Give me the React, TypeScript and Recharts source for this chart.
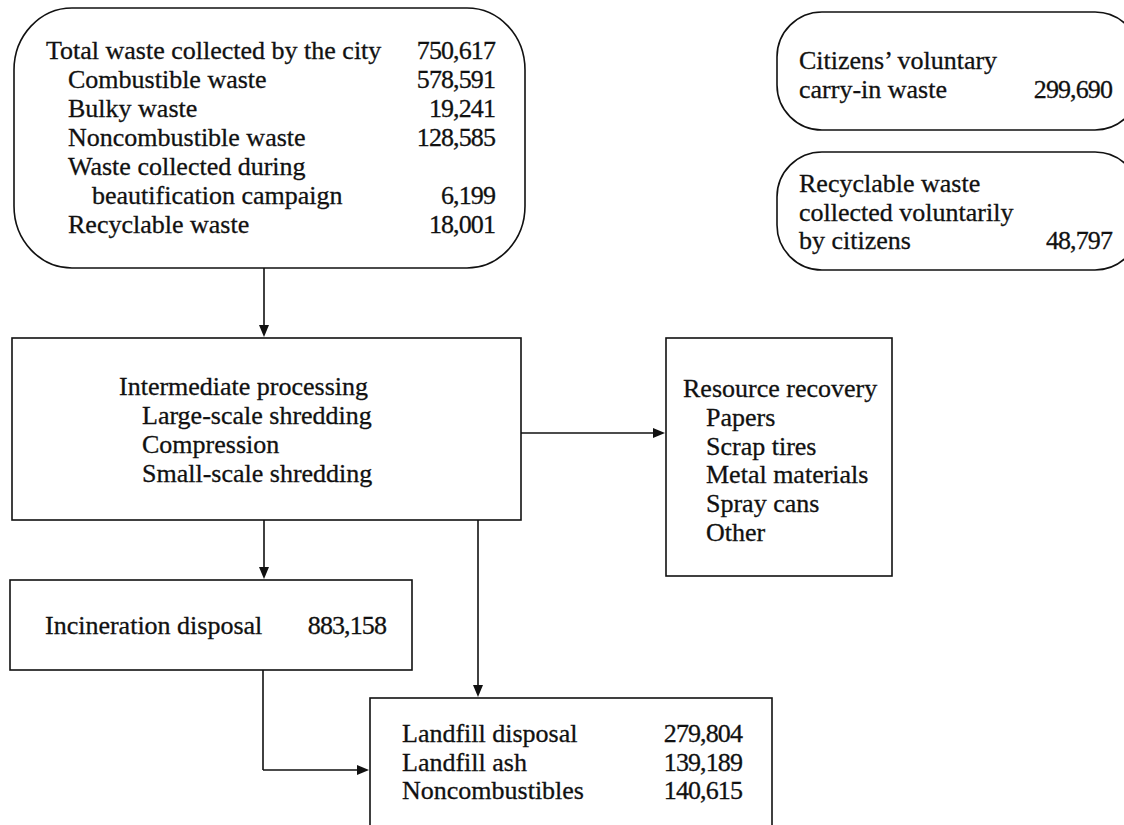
import React from "react";
import { ComposedChart, XAxis, YAxis, ReferenceArea, ReferenceLine } from "recharts";

// ---------- data (tonnes) ----------
const cityWasteItems = [
  "Total waste collected by the city",
  "Combustible waste",
  "Bulky waste",
  "Noncombustible waste",
  "Waste collected during",
  "beautification campaign",
  "Recyclable waste",
];
const cityWasteTonnes: (number | null)[] = [750617, 578591, 19241, 128585, null, 6199, 18001];

const carryInItems = ["Citizens\u2019 voluntary", "carry-in waste"];
const carryInTonnes: (number | null)[] = [null, 299690];

const voluntaryRecycleItems = ["Recyclable waste", "collected voluntarily", "by citizens"];
const voluntaryRecycleTonnes: (number | null)[] = [null, null, 48797];

const intermediateItems = ["Intermediate processing", "Large-scale shredding", "Compression", "Small-scale shredding"];
const recoveryItems = ["Resource recovery", "Papers", "Scrap tires", "Metal materials", "Spray cans", "Other"];

const incinerationItems = ["Incineration disposal"];
const incinerationTonnes: (number | null)[] = [883158];

const landfillItems = ["Landfill disposal", "Landfill ash", "Noncombustibles"];
const landfillTonnes: (number | null)[] = [279804, 139189, 140615];

// ---------- layout (chart units) ----------
const W = 1124;
const H = 825;
const FONT = "'Liberation Serif', 'Times New Roman', serif";
const FS = 26;
const INK = "#111";

type NodeLayout = {
  x1: number; x2: number; y1: number; y2: number; rx: number; ry?: number;
  base: number; gap: number; indent: number[]; valueX?: number;
  labels: string[]; values?: (number | null)[];
};

const nodes: NodeLayout[] = [
  { x1: 14, x2: 525, y1: 8, y2: 268, rx: 58, ry: 62, base: 59, gap: 29, indent: [46, 68, 68, 68, 68, 92, 68], valueX: 495, labels: cityWasteItems, values: cityWasteTonnes },
  { x1: 777, x2: 1140, y1: 12, y2: 130, rx: 45, base: 69, gap: 29, indent: [799, 799], valueX: 1112, labels: carryInItems, values: carryInTonnes },
  { x1: 777, x2: 1140, y1: 152, y2: 270, rx: 45, base: 192, gap: 28.5, indent: [799, 799, 799], valueX: 1112, labels: voluntaryRecycleItems, values: voluntaryRecycleTonnes },
  { x1: 12, x2: 521, y1: 338, y2: 520, rx: 0, base: 395, gap: 29, indent: [119, 142, 142, 142], labels: intermediateItems },
  { x1: 666, x2: 892, y1: 338, y2: 576, rx: 0, base: 397, gap: 28.8, indent: [683, 706, 706, 706, 706, 706], labels: recoveryItems },
  { x1: 10, x2: 412, y1: 580, y2: 670, rx: 0, base: 634, gap: 29, indent: [45], valueX: 386, labels: incinerationItems, values: incinerationTonnes },
  { x1: 370, x2: 772, y1: 698, y2: 880, rx: 0, base: 742, gap: 28.7, indent: [402, 402, 402], valueX: 742, labels: landfillItems, values: landfillTonnes },
];

type Seg = { from: [number, number]; to: [number, number]; head: boolean };
const connectors: Seg[] = [
  { from: [264, 268], to: [264, 337], head: true },
  { from: [521, 433], to: [665, 433], head: true },
  { from: [264, 520], to: [264, 579], head: true },
  { from: [478, 520], to: [478, 697], head: true },
  { from: [263, 670], to: [263, 770], head: false },
  { from: [263, 770], to: [369, 770], head: true },
];

const fmt = (v: number) => v.toLocaleString("en-US");

function makeBoxShape(node: NodeLayout) {
  return (p: any) => {
    const { x, y, width, height } = p;
    const ox = x - node.x1;
    const oy = y - node.y1;
    return (
      <g>
        <rect x={x} y={y} width={width} height={height} rx={node.rx} ry={node.ry ?? node.rx}
          fill="none" stroke={INK} strokeWidth={1.6} />
        {node.labels.map((t, i) => (
          <text key={"l" + i} x={node.indent[i] + ox} y={node.base + i * node.gap + oy}
            fontFamily={FONT} fontSize={FS} fill={INK} stroke={INK} strokeWidth={0.3}>{t}</text>
        ))}
        {(node.values || []).map((v, i) =>
          v == null ? null : (
            <text key={"v" + i} x={(node.valueX as number) + ox} y={node.base + i * node.gap + oy}
              textAnchor="end" letterSpacing={-0.9} fontFamily={FONT} fontSize={FS} fill={INK}
              stroke={INK} strokeWidth={0.3}>{fmt(v)}</text>
          )
        )}
      </g>
    );
  };
}

function makeArrowShape(head: boolean) {
  return (p: any) => {
    const { x1, y1, x2, y2 } = p;
    const dx = x2 - x1;
    const dy = y2 - y1;
    const len = Math.sqrt(dx * dx + dy * dy) || 1;
    const ux = dx / len;
    const uy = dy / len;
    const L = 12;
    const hw = 5;
    const bx = x2 - ux * L;
    const by = y2 - uy * L;
    const pts = `${x2},${y2} ${bx - uy * hw},${by + ux * hw} ${bx + uy * hw},${by - ux * hw}`;
    return (
      <g>
        <line x1={x1} y1={y1} x2={head ? bx + ux * 2 : x2} y2={head ? by + uy * 2 : y2} stroke={INK} strokeWidth={1.6} />
        {head && <polygon points={pts} fill={INK} />}
      </g>
    );
  };
}

export default function App() {
  return (
    <div style={{ position: "absolute", left: 0, top: 0, width: W, height: H, background: "#fff" }}>
      <ComposedChart width={W} height={H} data={[]} margin={{ top: 0, right: 0, bottom: 0, left: 0 }}>
        <XAxis type="number" dataKey="x" domain={[0, W]} allowDataOverflow hide />
        <YAxis type="number" dataKey="y" domain={[0, H]} reversed allowDataOverflow hide />
        {nodes.map((n, i) => (
          <ReferenceArea key={"n" + i} x1={n.x1} x2={n.x2} y1={n.y1} y2={n.y2}
            ifOverflow="visible" shape={makeBoxShape(n)} />
        ))}
        {connectors.map((c, i) => (
          <ReferenceLine key={"c" + i} ifOverflow="visible"
            segment={[{ x: c.from[0], y: c.from[1] }, { x: c.to[0], y: c.to[1] }]}
            shape={makeArrowShape(c.head)} />
        ))}
      </ComposedChart>
    </div>
  );
}
